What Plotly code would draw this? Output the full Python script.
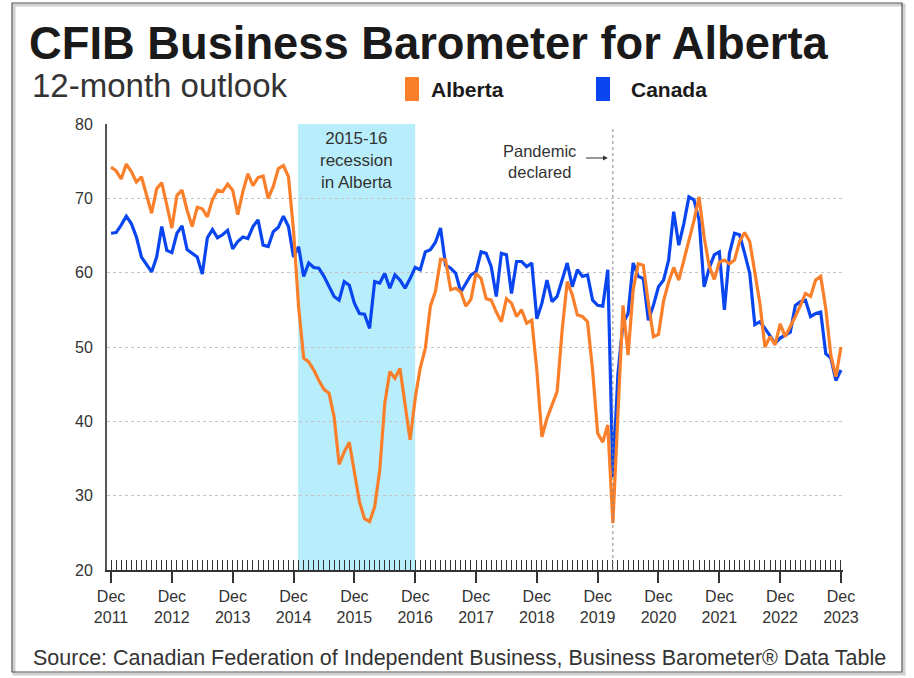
import plotly.graph_objects as go

# Monthly data, Dec 2011 (index 0) to Dec 2023 (index 144)
alberta = [74.2, 73.7, 72.6, 74.6, 73.6, 72.2, 72.9, 70.4, 68.0, 71.3, 72.1, 69.1,
           66.0, 70.4, 71.1, 68.4, 66.2, 68.8, 68.6, 67.5, 69.8, 71.1, 70.9, 71.9,
           71.1, 67.8, 70.9, 73.3, 71.7, 72.8, 73.0, 70.0, 71.6, 74.0, 74.4, 72.9,
           65.7, 55.4, 48.5, 48.0, 46.9, 45.5, 44.3, 43.8, 40.6, 34.2, 35.9, 37.2,
           33.4, 29.2, 26.9, 26.5, 28.5, 33.4, 42.4, 46.7, 45.8, 47.1, 42.3, 37.5,
           43.1, 47.2, 49.8, 55.5, 57.5, 61.8, 61.7, 57.7, 57.9, 57.4, 55.5, 56.4,
           59.9, 59.2, 56.5, 56.3, 54.7, 53.4, 56.5, 55.9, 54.1, 55.0, 53.2, 53.6,
           46.9, 37.9, 40.4, 42.2, 44.0, 52.3, 58.8, 57.0, 54.3, 54.1, 53.4, 46.9,
           38.4, 37.2, 39.5, 26.3, 40.0, 55.6, 48.9, 57.7, 61.2, 61.0, 55.9, 51.4,
           51.7, 56.2, 58.7, 60.7, 59.0, 61.6, 64.3, 67.0, 70.2, 64.8, 60.9, 59.1,
           61.4, 61.7, 61.2, 61.7, 64.2, 65.4, 64.2, 59.7, 55.9, 50.0, 51.4, 50.3,
           53.1, 51.4, 52.7, 54.1, 55.6, 57.2, 56.8, 59.0, 59.5, 55.2, 48.9, 46.0,
           50.0]
canada = [65.3, 65.4, 66.4, 67.6, 66.6, 64.8, 62.1, 61.0, 60.1, 62.1, 66.2, 63.0,
          62.7, 65.3, 66.3, 63.1, 62.6, 62.1, 59.8, 64.7, 65.8, 64.7, 65.1, 65.7,
          63.2, 64.2, 64.8, 64.6, 66.2, 67.1, 63.7, 63.5, 65.5, 66.1, 67.6, 66.2,
          62.1, 63.5, 59.5, 61.3, 60.7, 60.6, 59.5, 58.1, 56.8, 56.3, 58.8, 58.3,
          55.9, 54.5, 54.4, 52.5, 58.8, 58.6, 59.9, 57.9, 59.7, 59.0, 57.9, 59.2,
          60.7, 60.4, 62.8, 63.1, 64.1, 66.0, 61.0, 60.6, 59.9, 57.4, 58.6, 59.7,
          60.1, 62.8, 62.6, 60.8, 56.8, 62.6, 62.4, 57.2, 61.5, 61.5, 60.8, 61.3,
          53.8, 55.9, 59.0, 56.1, 56.8, 59.2, 61.3, 58.1, 60.4, 59.5, 59.7, 56.3,
          55.6, 55.5, 60.4, 32.5, 46.4, 53.2, 54.5, 61.3, 59.5, 59.2, 53.6, 55.6,
          58.1, 59.0, 61.7, 68.2, 63.7, 66.6, 70.2, 69.8, 67.1, 58.1, 60.6, 62.4,
          62.8, 55.0, 62.6, 65.3, 65.1, 62.6, 59.9, 53.0, 53.4, 52.5, 51.4, 50.5,
          51.2, 51.6, 52.0, 55.6, 56.1, 56.3, 54.1, 54.5, 54.7, 49.1, 48.5, 45.5,
          46.9]
months = list(range(len(alberta)))
year_ticks = list(range(0, 145, 12))
year_labels = [f"Dec<br>{y}" for y in range(2011, 2024)]
y_ticks = [20, 30, 40, 50, 60, 70, 80]

ORANGE = "#FA7F2A"
BLUE = "#0A46F0"
FONT = "Liberation Sans, Arial, sans-serif"

L, R, T, B = 107, 843, 124, 570
W, H = 914, 678


def px(x):
    return (x - L) / (R - L)


def py(y):
    return (B - y) / (B - T)


def vy(y):
    return 80 - (y - T) * 60 / (B - T)


fig = go.Figure()
fig.add_trace(go.Scatter(x=months, y=canada, mode="lines", name="Canada",
                         line=dict(color=BLUE, width=3.2)))
fig.add_trace(go.Scatter(x=months, y=alberta, mode="lines", name="Alberta",
                         line=dict(color=ORANGE, width=3.2)))

shapes = [
    dict(type="rect", xref="paper", yref="paper", x0=px(14), x1=px(904), y0=py(674), y1=py(5),
         line=dict(color="#d0d0d0", width=3), layer="below"),
    dict(type="rect", xref="paper", yref="paper", x0=px(12), x1=px(902), y0=py(672), y1=py(3),
         line=dict(color="#555555", width=1.2), layer="below"),
    dict(type="rect", xref="x", yref="paper", x0=36.9, x1=60, y0=0, y1=1,
         fillcolor="#B8EEFB", line=dict(width=0), layer="below"),
    dict(type="line", xref="x", yref="paper", x0=99, x1=99, y0=0, y1=0.99,
         line=dict(color="#888888", width=1, dash="dot")),
    dict(type="rect", xref="paper", yref="paper", x0=px(405), x1=px(419), y0=py(101), y1=py(77),
         fillcolor=ORANGE, line=dict(width=0)),
    dict(type="rect", xref="paper", yref="paper", x0=px(596), x1=px(610), y0=py(101), y1=py(77),
         fillcolor=BLUE, line=dict(width=0)),
]

annotations = [
    dict(text="<b>CFIB Business Barometer for Alberta</b>", xref="paper", yref="paper",
         x=px(27), y=py(43), xanchor="left", yanchor="middle", showarrow=False,
         font=dict(size=45.3, color="#1a1a1a", family=FONT)),
    dict(text="12-month outlook", xref="paper", yref="paper",
         x=px(30), y=py(85), xanchor="left", yanchor="middle", showarrow=False,
         font=dict(size=33, color="#333333", family=FONT)),
    dict(text="<b>Alberta</b>", xref="paper", yref="paper",
         x=px(429), y=py(89), xanchor="left", yanchor="middle", showarrow=False,
         font=dict(size=21, color="#1a1a1a", family=FONT)),
    dict(text="<b>Canada</b>", xref="paper", yref="paper",
         x=px(629), y=py(89), xanchor="left", yanchor="middle", showarrow=False,
         font=dict(size=21, color="#1a1a1a", family=FONT)),
    dict(text="2015-16<br>recession<br>in Alberta", xref="x", yref="paper",
         x=48.4, y=py(160), xanchor="center", yanchor="middle", showarrow=False,
         font=dict(size=17, color="#333333", family=FONT)),
    dict(text="Pandemic<br>declared", xref="x", yref="paper",
         x=84.5, y=py(161), xanchor="center", yanchor="middle", showarrow=False,
         font=dict(size=16.5, color="#333333", family=FONT)),
    dict(text="", xref="x", yref="y", x=98.0, y=vy(158), axref="x", ayref="y",
         ax=93.4, ay=vy(158), showarrow=True, arrowhead=2, arrowsize=0.8, arrowwidth=1.2,
         arrowcolor="#333333"),
    dict(text="Source: Canadian Federation of Independent Business, Business Barometer® Data Table",
         xref="paper", yref="paper", x=px(31), y=py(658), xanchor="left", yanchor="middle",
         showarrow=False, font=dict(size=21.5, color="#333333", family=FONT)),
]

fig.update_layout(
    width=W, height=H,
    margin=dict(l=L, r=W - R, t=T, b=H - B),
    paper_bgcolor="white", plot_bgcolor="white",
    showlegend=False,
    font=dict(family=FONT, color="#333333"),
    shapes=shapes, annotations=annotations,
    xaxis=dict(range=[-0.8, 144.4], tickmode="array", tickvals=year_ticks, ticktext=year_labels,
               showgrid=False, zeroline=False, showline=True, linecolor="#333333", linewidth=1.5,
               ticks="outside", ticklen=11, tickwidth=2, tickcolor="#333333",
               tickfont=dict(size=16, color="#333333"),
               minor=dict(dtick=1, tick0=0, ticks="inside", ticklen=10, tickwidth=1.3,
                          tickcolor="#333333", showgrid=False)),
    yaxis=dict(range=[20, 80], tickmode="array", tickvals=y_ticks,
               showgrid=True, gridcolor="#c4c4c4", griddash="dot", gridwidth=1,
               zeroline=False, showline=True, linecolor="#555555", linewidth=2,
               ticks="", ticklabelstandoff=9,
               tickfont=dict(size=16, color="#333333")),
)

fig.write_html("out.html", post_script="document.body.style.margin='0';",
               config={"displayModeBar": False})
